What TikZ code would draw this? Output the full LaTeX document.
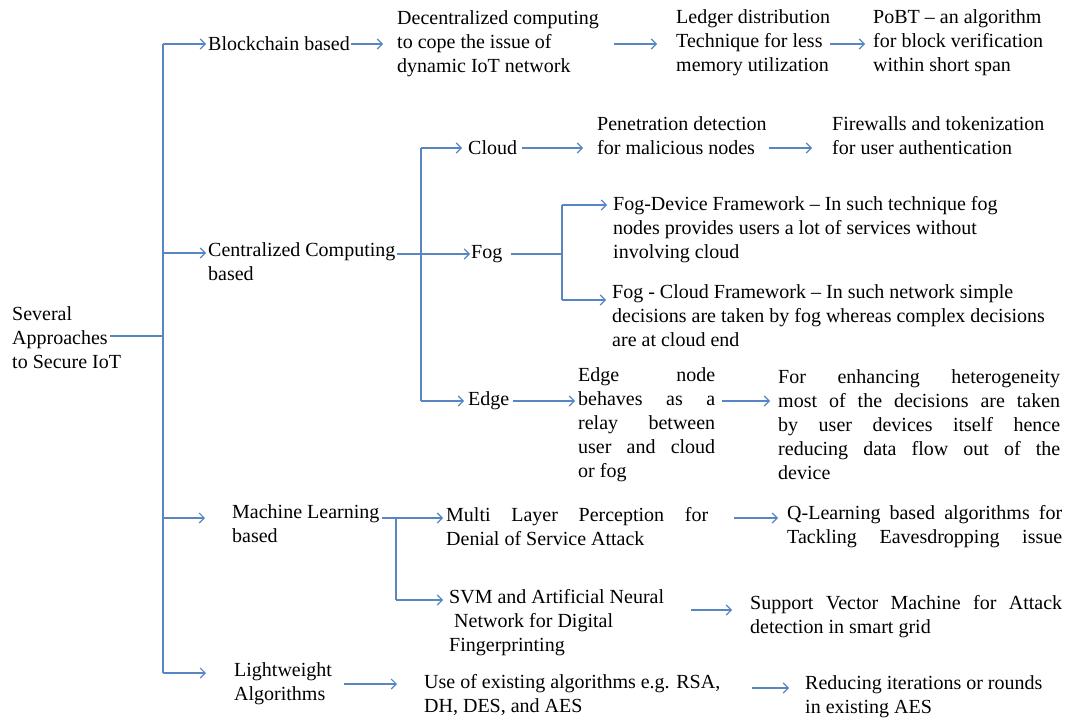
\documentclass[tikz,border=0pt]{standalone}
\usepackage{fontspec}
\setmainfont{Liberation Serif}
\usetikzlibrary{arrows.meta}
\definecolor{linkblue}{RGB}{88,134,194}
\newcommand\spreadline[2]{\makebox[#1][s]{#2}}
\begin{document}
\begin{tikzpicture}[x=1pt,y=-1pt,
  txt/.style={inner sep=0pt, anchor=west, align=left, font=\fontsize{20}{24}\selectfont},
  conn/.style={draw=linkblue, line width=1.2pt},
  arw/.style={conn, -{Straight Barb[length=5pt,width=10pt]}}]
\useasboundingbox (0,0) rectangle (1075,719);

% nodes
\node[txt] (root) at (12,338) {Several\\Approaches\\to Secure IoT};
\node[txt] (bc) at (208,44) {Blockchain based};
\node[txt] (dec) at (397,44) {Decentralized computing\\to cope the issue of\\dynamic IoT network};
\node[txt] (led) at (676,43) {Ledger distribution\\Technique for less\\memory utilization};
\node[txt] (pobt) at (873,43) {PoBT – an algorithm\\for block verification\\within short span};
\node[txt] (cent) at (208,262) {Centralized Computing\\based};
\node[txt] (cloud) at (468,148) {Cloud};
\node[txt] (pen) at (597,136) {Penetration detection\\for malicious nodes};
\node[txt] (fire) at (832,136) {Firewalls and tokenization\\for user authentication};
\node[txt] (fog) at (471,254) {Fog};
\node[txt] (fdev) at (613,230) {Fog-Device Framework – In such technique fog\\nodes provides users a lot of services without\\involving cloud};
\node[txt] (fcl) at (612,316) {Fog - Cloud Framework – In such network simple\\decisions are taken by fog whereas complex decisions\\are at cloud end};
\node[txt] (edge) at (468,401) {Edge};
\node[txt] (en) at (578,425) {\spreadline{137pt}{Edge node}\\\spreadline{137pt}{behaves as a}\\\spreadline{137pt}{relay between}\\\spreadline{137pt}{user and cloud}\\or fog};
\node[txt] (enh) at (778,425) {\spreadline{282pt}{For enhancing heterogeneity}\\\spreadline{282pt}{most of the decisions are taken}\\\spreadline{282pt}{by user devices itself hence}\\\spreadline{282pt}{reducing data flow out of the}\\device};
\node[txt] (ml) at (232,524) {Machine Learning\\based};
\node[txt] (mlp) at (446,527) {\spreadline{262pt}{Multi Layer Perception for}\\Denial of Service Attack};
\node[txt] (q) at (787,527) {\spreadline{275pt}{Q-Learning based algorithms for}\\\spreadline{275pt}{Tackling Eavesdropping issue}};
\node[txt] (svm) at (449,623) {SVM and Artificial Neural\\\hspace{5pt}Network for Digital\\Fingerprinting};
\node[txt] (svmach) at (750,617) {\spreadline{312pt}{Support Vector Machine for Attack}\\detection in smart grid};
\node[txt] (lw) at (234,684) {Lightweight\\Algorithms};
\node[txt] (use) at (424,695) {Use of existing algorithms e.g. RSA,\\DH, DES, and AES};
\node[txt] (red) at (805,697) {Reducing iterations or rounds\\in existing AES};

% branch points and rows
\coordinate (tTop) at (163,44);
\coordinate (tRoot) at (163,336);
\coordinate (tCent) at (163,253);
\coordinate (tML) at (163,518);
\coordinate (tBot) at (163,673);
\coordinate (cTop) at (421,148);
\coordinate (cBot) at (421,401);
\coordinate (fTop) at (562,205);
\coordinate (fMid) at (562,254);
\coordinate (fBot) at (562,300);
\coordinate (mlMid) at (396,518);
\coordinate (mlBot) at (396,600);
\coordinate (svmRow) at (396,610);
\coordinate (lwRow) at (163,684);
\coordinate (redRow) at (163,688);

% trunk
\draw[conn] ([xshift=-11pt]root.east |- tRoot) -- (tRoot);
\draw[conn] (tTop) -- (tBot);
\draw[arw, shorten >=2pt] (tTop) -- (bc.west);
\draw[arw, shorten >=2pt] (tCent) -- (tCent -| cent.west);
\draw[arw, shorten >=27pt] (tML) -- (tML -| ml.west);
\draw[arw, shorten >=28pt] (tBot) -- (tBot -| lw.west);

% blockchain row
\draw[arw, shorten <=1pt, shorten >=14pt] (bc.east) -- (bc.east -| dec.west);
\draw[arw, shorten <=15pt, shorten >=19pt] (dec.east |- bc.east) -- (bc.east -| led.west);
\draw[arw, shorten <=0pt, shorten >=8pt] (led.east |- bc.east) -- (bc.east -| pobt.west);

% centralized
\draw[arw, shorten <=1pt, shorten >=1pt] (cent.east |- fog.west) -- (fog.west);
\draw[conn] (cTop) -- (cBot);
\draw[arw, shorten >=6pt] (cTop) -- (cloud.west);
\draw[arw, shorten >=4pt] (cBot) -- (edge.west);
\draw[arw, shorten <=5pt, shorten >=14pt] (cloud.east) -- (cloud.east -| pen.west);
\draw[arw, shorten <=2pt, shorten >=20pt] (pen.east |- cloud.east) -- (cloud.east -| fire.west);
\draw[conn, shorten <=8pt] (fog.east) -- (fMid);
\draw[conn] (fTop) -- (fBot);
\draw[arw, shorten >=6pt] (fTop) -- (fTop -| fdev.west);
\draw[arw, shorten >=6pt] (fBot) -- (fBot -| fcl.west);
\draw[arw, shorten <=3pt, shorten >=3pt] (edge.east) -- (edge.east -| en.west);
\draw[arw, shorten <=7pt, shorten >=8pt] (en.east |- edge.east) -- (edge.east -| enh.west);

% machine learning
\draw[arw, shorten <=2pt, shorten >=3pt] (ml.east |- tML) -- (tML -| mlp.west);
\draw[conn] (mlMid) -- (mlBot);
\draw[arw, shorten >=6pt] (mlBot) -- (mlBot -| svm.west);
\draw[arw, shorten <=26pt, shorten >=9pt] (mlp.east |- tML) -- (tML -| q.west);
\draw[arw, shorten <=27pt, shorten >=18pt] (svm.east |- svmRow) -- (svmRow -| svmach.west);

% lightweight
\draw[arw, shorten <=12pt, shorten >=27pt] (lw.east |- lwRow) -- (lwRow -| use.west);
\draw[arw, shorten <=31pt, shorten >=16pt] (use.east |- redRow) -- (redRow -| red.west);
\end{tikzpicture}
\end{document}
